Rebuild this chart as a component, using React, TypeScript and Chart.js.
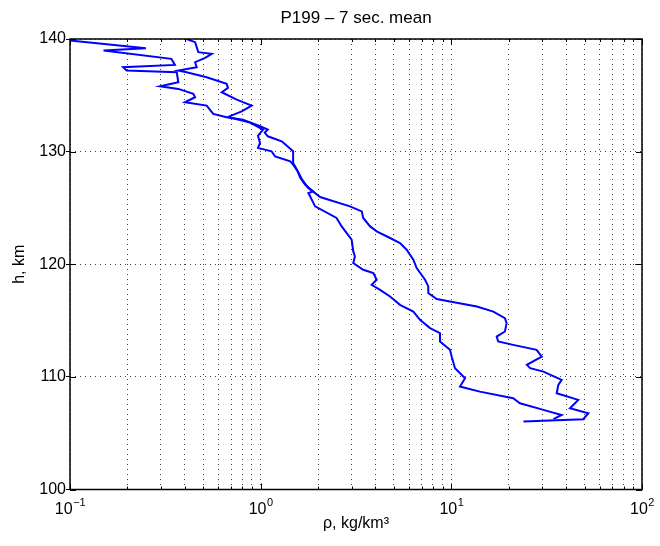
import { useEffect, useRef } from 'react';
import { Chart, registerables } from 'chart.js';

Chart.register(...registerables);

const TITLE = 'P199 – 7 sec. mean';
const X_LABEL = 'ρ, kg/km³';
const Y_LABEL = 'h, km';

const xTickValues = [0.1, 1, 10, 100];
const xTickBase = '10';
const xTickExponents = ['−1', '0', '1', '2'];
const yTickValues = [100, 110, 120, 130, 140];

// Curve 1 (left at the top)
const curve1Rho = [0.1, 0.25, 0.15, 0.34, 0.355, 0.19, 0.198, 0.363, 0.37, 0.297, 0.37, 0.443, 0.453, 0.401, 0.521, 0.564, 0.663, 0.808, 0.992, 1.09, 1.05, 1.09, 1.29, 1.48, 1.48, 1.55, 1.61, 1.71, 1.88, 1.78, 1.93, 2.5, 2.66, 3.0, 3.06, 3.12, 3.06, 3.45, 3.9, 4.06, 3.82, 4.23, 4.77, 5.38, 6.32, 6.85, 7.73, 8.72, 8.72, 9.84, 10.04, 10.45, 11.8, 11.1, 14.1, 21.1, 22.9, 30.4, 37.9, 34.3];
const curve1H = [139.87, 139.18, 138.98, 138.24, 137.7, 137.5, 137.2, 137.05, 136.16, 135.8, 135.57, 135.13, 134.83, 134.38, 134.09, 133.35, 133.05, 132.84, 132.25, 131.96, 131.69, 131.36, 130.92, 130.03, 129.0, 128.4, 127.69, 127.07, 126.47, 126.33, 125.14, 124.11, 123.36, 122.18, 121.14, 120.69, 120.11, 119.51, 119.22, 118.62, 118.18, 117.73, 117.14, 116.4, 115.8, 115.07, 114.33, 113.88, 113.14, 112.4, 111.8, 110.77, 109.88, 109.14, 108.69, 108.11, 107.66, 107.07, 106.62, 106.24];

// Curve 2 (right at the top)
const curve2Rho = [0.409, 0.453, 0.471, 0.554, 0.511, 0.453, 0.462, 0.37, 0.409, 0.521, 0.663, 0.674, 0.625, 0.749, 0.897, 0.795, 0.674, 0.879, 1.03, 0.968, 0.992, 0.968, 1.14, 1.19, 1.43, 1.48, 1.57, 1.65, 1.77, 1.88, 2.05, 2.94, 3.39, 3.45, 3.75, 4.06, 4.77, 5.38, 5.83, 6.32, 6.58, 7.28, 7.57, 7.57, 8.38, 9.84, 13.6, 16.6, 19.1, 19.5, 19.1, 17.3, 17.6, 21.1, 28.0, 29.8, 24.9, 25.9, 30.4, 37.9, 36.4, 35.7, 46.3, 41.9, 52.3, 49.2, 23.9];
const curve2H = [140, 139.72, 138.83, 138.68, 138.33, 137.94, 137.49, 137.2, 137.05, 136.6, 136.02, 135.66, 135.27, 134.62, 134.09, 133.58, 133.08, 132.58, 131.96, 131.42, 130.77, 130.33, 130.03, 129.58, 129.14, 128.84, 128.22, 127.51, 126.8, 126.47, 125.97, 125.14, 124.69, 124.11, 123.36, 122.92, 122.33, 121.88, 121.29, 120.4, 119.66, 118.62, 118.03, 117.44, 116.91, 116.69, 116.25, 115.8, 115.22, 114.77, 114.03, 113.58, 113.14, 112.84, 112.4, 111.8, 111.07, 110.77, 110.47, 109.73, 109.29, 108.55, 107.96, 107.22, 106.77, 106.24, 106.03];

const FONT = '"Liberation Sans", Arial, Helvetica, sans-serif';

function zip(xs: number[], ys: number[]) {
  return xs.map((x, i) => ({ x, y: ys[i] }));
}

function logGridValues(): number[] {
  const out: number[] = [];
  for (let e = -1; e < 2; e++) {
    for (let m = 1; m <= 9; m++) out.push(Number((m * Math.pow(10, e)).toPrecision(3)));
  }
  out.push(100);
  return out;
}

const framePlugin = {
  id: 'matlabFrame',
  afterDraw(chart: any) {
    const { ctx, chartArea } = chart;
    const { left, right, top, bottom } = chartArea;
    const xs = chart.scales.x;
    const ys = chart.scales.y;
    ctx.save();
    ctx.strokeStyle = '#000';
    ctx.lineWidth = 1;
    xs.ticks.forEach((t: any) => {
      const px = Math.round(xs.getPixelForValue(t.value)) + 0.5;
      const lg = Math.log10(t.value);
      const major = Math.abs(lg - Math.round(lg)) < 1e-6;
      const len = major ? 6 : 3;
      ctx.beginPath();
      ctx.moveTo(px, bottom);
      ctx.lineTo(px, bottom - len);
      ctx.moveTo(px, top);
      ctx.lineTo(px, top + len);
      ctx.stroke();
    });
    ys.ticks.forEach((t: any) => {
      const py = Math.round(ys.getPixelForValue(t.value)) + 0.5;
      ctx.beginPath();
      ctx.moveTo(left, py);
      ctx.lineTo(left + 6, py);
      ctx.moveTo(right, py);
      ctx.lineTo(right - 6, py);
      ctx.stroke();
    });
    ctx.lineWidth = 1.5;
    ctx.strokeRect(left, top, right - left, bottom - top);

    // x tick labels: 10 with superscript exponent
    ctx.fillStyle = '#000';
    ctx.textBaseline = 'alphabetic';
    ctx.textAlign = 'left';
    const baseY = bottom + 24;
    xTickValues.forEach((v, i) => {
      const px = xs.getPixelForValue(v);
      ctx.font = `16px ${FONT}`;
      const wb = ctx.measureText(xTickBase).width;
      ctx.font = `11px ${FONT}`;
      const we = ctx.measureText(xTickExponents[i]).width;
      const start = px - (wb + we) / 2;
      ctx.font = `16px ${FONT}`;
      ctx.fillText(xTickBase, start, baseY);
      ctx.font = `11px ${FONT}`;
      ctx.fillText(xTickExponents[i], start + wb + 0.5, baseY - 8);
    });
    ctx.restore();
  },
};

export default function App() {
  const canvasRef = useRef<HTMLCanvasElement | null>(null);

  useEffect(() => {
    const canvas = canvasRef.current;
    if (!canvas) return;
    Chart.defaults.font.family = FONT;
    const gridValues = logGridValues();
    const lineStyle = {
      showLine: true,
      borderColor: '#0000ff',
      backgroundColor: '#0000ff',
      borderWidth: 2,
      pointRadius: 0,
      tension: 0,
      fill: false,
    };
    const chart = new Chart(canvas, {
      type: 'scatter',
      data: {
        datasets: [
          { label: 'curve 1', data: zip(curve1Rho, curve1H), ...lineStyle },
          { label: 'curve 2', data: zip(curve2Rho, curve2H), ...lineStyle },
        ],
      },
      options: {
        animation: false,
        responsive: false,
        devicePixelRatio: 1,
        layout: { padding: { top: 0, right: 18, bottom: 0, left: 0 } },
        plugins: {
          legend: { display: false },
          tooltip: { enabled: false },
          title: {
            display: true,
            fullSize: false,
            text: TITLE,
            color: '#000',
            font: { size: 17, weight: 'normal', family: FONT },
            padding: { top: 7.8, bottom: 10.8 },
          },
        },
        scales: {
          x: {
            type: 'logarithmic',
            min: 0.1,
            max: 100,
            afterBuildTicks: (scale: any) => {
              scale.ticks = gridValues.map((v) => ({ value: v }));
            },
            afterFit: (scale: any) => {
              scale.height = 56.5;
            },
            ticks: {
              display: false,
              autoSkip: false,
              maxRotation: 0,
            },
            grid: {
              color: 'rgba(0,0,0,0.75)',
              lineWidth: 1,
              drawTicks: false,
            },
            border: { display: false, dash: [1, 4] },
            title: {
              display: true,
              text: X_LABEL,
              color: '#000',
              font: { size: 16, family: FONT },
              padding: { top: 0, bottom: 12.4 },
            },
          },
          y: {
            type: 'linear',
            min: 100,
            max: 140,
            afterBuildTicks: (scale: any) => {
              scale.ticks = yTickValues.map((v) => ({ value: v }));
            },
            afterFit: (scale: any) => {
              scale.width = 70;
            },
            ticks: {
              padding: 0,
              color: '#000',
              font: { size: 16, family: FONT },
            },
            grid: {
              color: 'rgba(0,0,0,0.75)',
              lineWidth: 1,
              drawTicks: true,
              tickLength: 4,
              tickColor: '#000',
              tickBorderDash: [],
            },
            border: { display: false, dash: [1, 4] },
            title: {
              display: true,
              text: Y_LABEL,
              color: '#000',
              font: { size: 16, family: FONT },
              padding: { top: 10.4, bottom: 0 },
            },
          },
        },
      },
      plugins: [framePlugin],
    } as any);
    return () => chart.destroy();
  }, []);

  return (
    <div style={{ position: 'absolute', left: 0, top: 0, width: 660, height: 546, background: '#fff' }}>
      <canvas ref={canvasRef} width={660} height={546} style={{ display: 'block' }} />
    </div>
  );
}
